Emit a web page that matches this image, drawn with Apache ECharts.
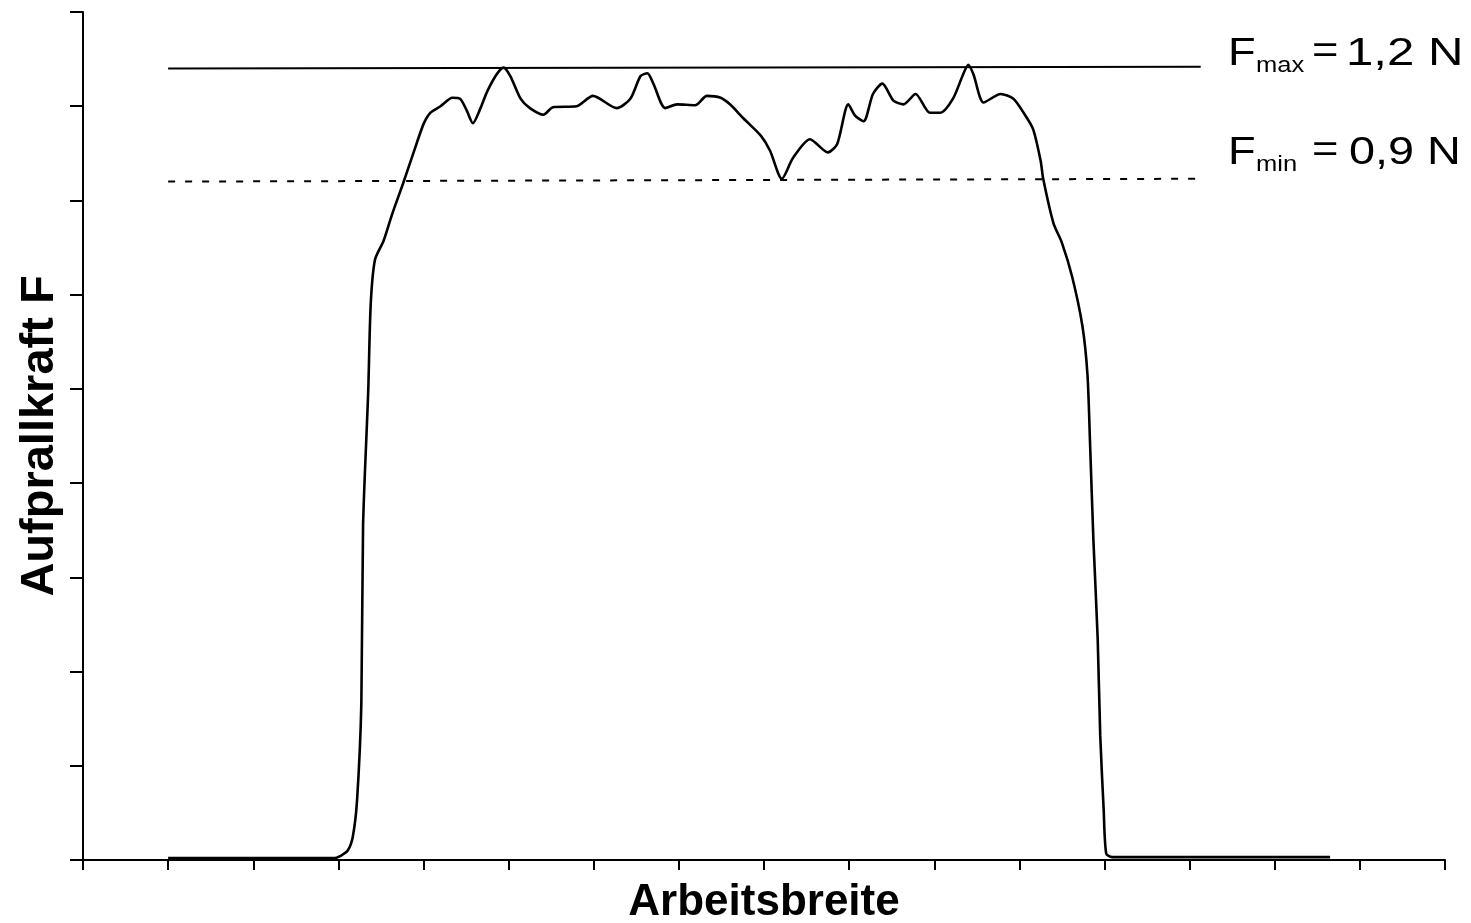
<!DOCTYPE html>
<html>
<head>
<meta charset="utf-8">
<script src="https://cdn.jsdelivr.net/npm/echarts@6/dist/echarts.min.js"></script>
<style>html,body{margin:0;padding:0;background:#fff}#c{width:1471px;height:923px}</style>
</head>
<body>
<div id="c"></div>
<script>
// Curve: Arbeitsbreite (x, axis units) vs Aufprallkraft (y, axis units)
const curveX = [1.00, 2.96, 3.02, 3.11, 3.17, 3.22, 3.27, 3.29, 3.35, 3.38, 3.43, 3.53, 3.63, 3.76, 3.88, 4.00, 4.08, 4.20, 4.34, 4.43, 4.51, 4.58, 4.67, 4.75, 4.86, 4.94, 5.02, 5.14, 5.25, 5.41, 5.52, 5.80, 5.99, 6.27, 6.43, 6.55, 6.63, 6.70, 6.84, 6.98, 7.19, 7.33, 7.49, 7.60, 7.76, 7.96, 8.07, 8.21, 8.34, 8.54, 8.75, 8.86, 8.99, 9.07, 9.17, 9.28, 9.39, 9.52, 9.64, 9.78, 9.95, 10.07, 10.22, 10.34, 10.40, 10.46, 10.58, 10.78, 10.93, 11.05, 11.16, 11.25, 11.28, 11.40, 11.50, 11.62, 11.74, 11.80, 11.83, 11.87, 11.92, 11.95, 11.99, 12.02, 12.09, 14.65];
const curveY = [0.02, 0.02, 0.04, 0.10, 0.25, 0.64, 1.67, 3.55, 4.96, 5.90, 6.37, 6.57, 6.85, 7.18, 7.50, 7.81, 7.93, 8.00, 8.09, 8.08, 7.95, 7.82, 7.98, 8.16, 8.34, 8.41, 8.32, 8.08, 7.98, 7.91, 7.99, 8.00, 8.11, 7.98, 8.08, 8.32, 8.35, 8.24, 7.98, 8.02, 8.01, 8.11, 8.09, 8.02, 7.87, 7.69, 7.53, 7.23, 7.45, 7.65, 7.51, 7.60, 8.02, 7.90, 7.84, 8.13, 8.24, 8.06, 8.02, 8.13, 7.93, 7.93, 8.08, 8.34, 8.44, 8.34, 8.04, 8.13, 8.08, 7.93, 7.76, 7.42, 7.23, 6.76, 6.55, 6.19, 5.67, 5.15, 4.43, 3.39, 2.35, 1.32, 0.54, 0.07, 0.03, 0.03];
// Limit lines
const fmaxX = [1.0, 13.13];
const fmaxY = [8.40, 8.42];
const fminX = [1.0, 13.10];
const fminY = [7.20, 7.23];
// Texts
const xAxisTitle = 'Arbeitsbreite';
const yAxisTitle = 'Aufprallkraft F';
const fmaxSub = 'max', fmaxVal = '1,2 N';
const fminSub = 'min', fminVal = '0,9 N';

const zip = (a, b) => a.map((v, i) => [v, b[i]]);
const chart = echarts.init(document.getElementById('c'), null, {renderer: 'canvas'});
const FONT = 'Liberation Sans, Arial, sans-serif';
function txt(t, x, y, size, sx) {
  return {type: 'text', x: x, y: y, scaleX: sx || 1.16, silent: true,
    style: {text: t, x: 0, y: 0, fill: '#000', font: size + 'px ' + FONT, verticalAlign: 'middle', align: 'left'}};
}
chart.setOption({
  animation: false,
  backgroundColor: '#fff',
  grid: {left: 83, right: 26, top: 12, bottom: 63, containLabel: false, outerBoundsMode: 'none'},
  xAxis: {
    type: 'value', min: 0, max: 16, interval: 1,
    name: xAxisTitle, nameLocation: 'middle', nameGap: 21,
    nameTextStyle: {fontFamily: FONT, fontWeight: 'bold', fontSize: 44, color: '#000', verticalAlign: 'top'},
    axisLine: {show: true, lineStyle: {color: '#000', width: 2}},
    axisTick: {show: true, inside: false, length: 10, lineStyle: {color: '#000', width: 2}},
    axisLabel: {show: false}, splitLine: {show: false}
  },
  yAxis: {
    type: 'value', min: 0, max: 9, interval: 1,
    name: yAxisTitle, nameLocation: 'middle', nameGap: 19, nameRotate: 90,
    nameTextStyle: {fontFamily: FONT, fontWeight: 'bold', fontSize: 47, color: '#000'},
    axisLine: {show: true, onZero: false, lineStyle: {color: '#000', width: 2}},
    axisTick: {show: true, inside: false, length: 13, lineStyle: {color: '#000', width: 2}},
    axisLabel: {show: false}, splitLine: {show: false}
  },
  series: [
    {type: 'line', data: zip(fmaxX, fmaxY), symbol: 'none', lineStyle: {color: '#000', width: 2}, z: 2},
    {type: 'line', data: zip(fminX, fminY), symbol: 'none', lineStyle: {color: '#000', width: 2, type: [7, 10]}, z: 2},
    {type: 'line', data: zip(curveX, curveY), symbol: 'none', smooth: 0.25, lineStyle: {color: '#000', width: 2.6}, z: 3}
  ],
  graphic: [
    txt('F', 1228, 54, 39), txt(fmaxSub, 1256, 66, 22), txt('=', 1312, 52, 39), txt(fmaxVal, 1346, 54, 39, 1.26),
    txt('F', 1228, 153, 39), txt(fminSub, 1256, 165, 22), txt('=', 1312, 151, 39), txt(fminVal, 1349, 153, 39, 1.2)
  ]
});
</script>
</body>
</html>
